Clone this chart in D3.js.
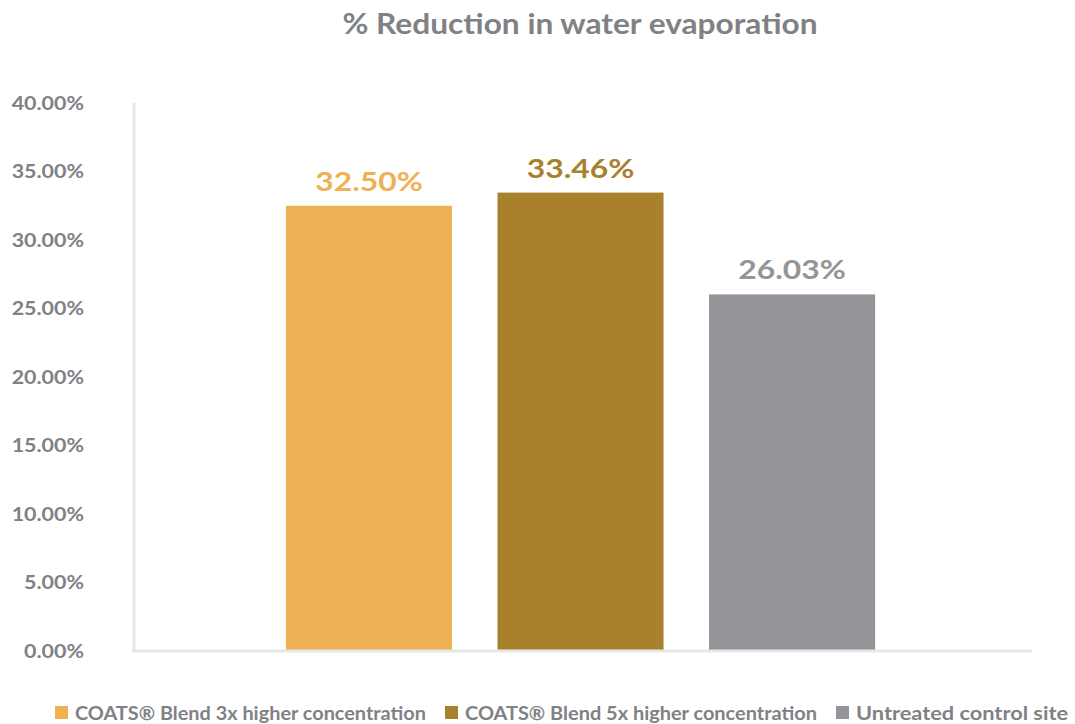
<!DOCTYPE html>
<html>
<head>
<meta charset="utf-8">
<script src="https://cdn.jsdelivr.net/npm/d3@7"></script>
<style>
  html, body { margin: 0; padding: 0; background: #fff; }
  svg { display: block; font-family: "Lato", "Open Sans", sans-serif; }
</style>
</head>
<body>
<svg id="chart" width="1075" height="724"></svg>
<script>
// Chart data
const title = "% Reduction in water evaporation";
const series = ["COATS® Blend 3x higher concentration", "COATS® Blend 5x higher concentration", "Untreated control site"];
const values = [32.50, 33.46, 26.03];
const colors = ["#EFB153", "#A9812D", "#939598"];
const yTicks = [0, 5, 10, 15, 20, 25, 30, 35, 40];

const textGray = "#808184";
const svg = d3.select("#chart");

// Stretch text horizontally to a wider, geometric-looking set width
function widen(sel, factor) {
  sel.each(function () {
    const w = this.getComputedTextLength();
    d3.select(this)
      .attr("textLength", w * factor)
      .attr("lengthAdjust", "spacingAndGlyphs");
  });
}

const plot = { left: 134, right: 1032, top: 103, bottom: 651 };

const x = d3.scaleBand()
  .domain(series)
  .range([plot.left, plot.right])
  .paddingInner(0.215)
  .paddingOuter(0.73)
  .align(0.492);

const y = d3.scaleLinear()
  .domain([0, 40])
  .range([plot.bottom, plot.top]);

// Title
svg.append("text")
  .attr("x", 580)
  .attr("y", 34)
  .attr("text-anchor", "middle")
  .attr("font-size", 28)
  .attr("font-weight", 700)
  .attr("fill", textGray)
  .text(title)
  .call(widen, 1.13);

// Y axis labels (no tick marks)
const yAxis = d3.axisLeft(y)
  .tickValues(yTicks)
  .tickSize(0)
  .tickPadding(0)
  .tickFormat(d => d3.format(".2f")(d) + "%");

const gy = svg.append("g")
  .attr("transform", "translate(84,0)")
  .call(yAxis);
gy.select(".domain").remove();
gy.selectAll("text")
  .attr("font-family", "Lato, sans-serif")
  .attr("font-size", 18)
  .attr("font-weight", 700)
  .attr("fill", textGray)
  .attr("dy", "0.35em")
  .call(widen, 1.19);

// Bars
svg.append("g")
  .selectAll("rect")
  .data(series)
  .join("rect")
  .attr("x", d => x(d))
  .attr("width", x.bandwidth())
  .attr("y", (d, i) => y(values[i]))
  .attr("height", (d, i) => y(0) - y(values[i]) - 1)
  .attr("fill", (d, i) => colors[i]);

// Axis lines
svg.append("line")
  .attr("x1", plot.left).attr("x2", plot.left)
  .attr("y1", plot.top).attr("y2", y(0))
  .attr("stroke", "#e6e7e8").attr("stroke-width", 3);
svg.append("line")
  .attr("x1", plot.left - 1.5).attr("x2", plot.right)
  .attr("y1", y(0)).attr("y2", y(0))
  .attr("stroke", "#e6e7e8").attr("stroke-width", 3);

// Value labels
svg.append("g")
  .selectAll("text")
  .data(series)
  .join("text")
  .attr("x", d => x(d) + x.bandwidth() / 2)
  .attr("y", (d, i) => y(values[i]) - 15)
  .attr("text-anchor", "middle")
  .attr("font-size", 27)
  .attr("font-weight", 700)
  .attr("fill", (d, i) => colors[i])
  .text((d, i) => d3.format(".2f")(values[i]) + "%")
  .call(widen, 1.18);

// Legend: each label fills the room up to the next swatch
const legendX = [55, 445, 836];
const legendEnd = 1087;
const legend = svg.append("g")
  .selectAll("g")
  .data(series)
  .join("g")
  .attr("transform", (d, i) => `translate(${legendX[i]},706)`);
legend.append("rect")
  .attr("width", 13).attr("height", 13)
  .attr("fill", (d, i) => colors[i]);
legend.append("text")
  .attr("x", 20)
  .attr("y", 13.5)
  .attr("font-size", 19)
  .attr("font-weight", 700)
  .attr("fill", textGray)
  .text(d => d)
  .attr("lengthAdjust", "spacingAndGlyphs")
  .attr("textLength", (d, i) => (i < legendX.length - 1 ? legendX[i + 1] : legendEnd) - legendX[i] - 39);
</script>
</body>
</html>
